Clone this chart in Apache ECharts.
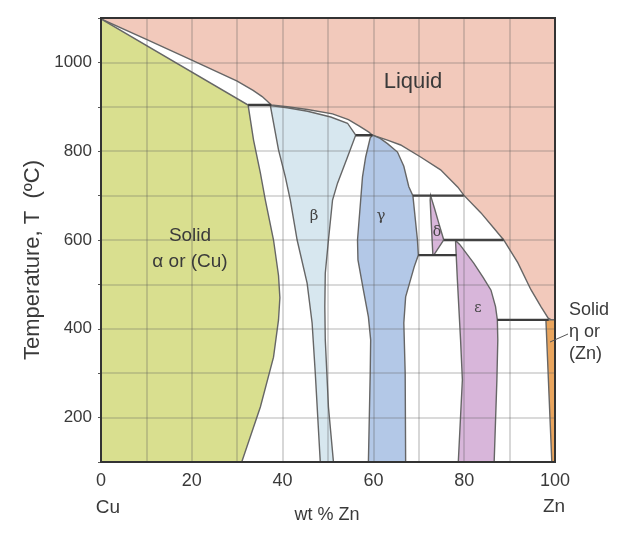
<!DOCTYPE html>
<html>
<head>
<meta charset="utf-8">
<script src="https://cdn.jsdelivr.net/npm/echarts@6/dist/echarts.min.js"></script>
<style>
html,body{margin:0;padding:0;background:#fff;}
#main{width:641px;height:533px;}
</style>
</head>
<body>
<div id="main"></div>
<script>
// ---- Data (wt % Zn, temperature °C) ----
const xTickLabels = [0, 20, 40, 60, 80, 100];
const yTickLabels = [200, 400, 600, 800, 1000];

const liquidRegion = [
  [0,1098],[10,1052],[20,1005],[30,958],[33.5,937],[35.5,923],[36.7,912],[37.5,904],
  [41,900],[45.5,894],[51,884],[54.5,871],[57,856],[59,843],[59.8,836],
  [63.1,825],[66,814],[70.4,787],[74.8,758],[78.6,719],[79.9,701],
  [83.7,661],[86.5,627],[88.7,600],[91.8,549],[94.7,488],[96.9,450],[98.5,424],[99.2,420],
  [100,420],[100,1100],[0,1100]
];
const alphaRegion = [
  [0,1098],[32.4,904],[33.6,825],[35.1,751],[36.2,690],[38,600],[39.1,520],[39.4,470],
  [39.1,420],[38,336],[35.1,224],[31,100],[0,100]
];
const betaRegion = [
  [37.3,903],[41,898],[45.5,890],[50.6,877],[54.3,863],[56.1,836],
  [54.3,787],[52.1,728],[51,690],[50.1,600],[49.4,525],[49.3,450],[49.4,375],[50.1,224],[51.2,100],
  [48.3,100],[47.2,300],[46.5,413],[45.4,503],[43.2,600],[41.7,690],[40.6,742],[39.1,803]
];
const gammaRegion = [
  [59.8,836],[61.5,829],[63.1,817],[65.3,798],[66.7,766],[67.8,720],[68.7,700],[69.3,640],
  [69.7,600],[69.9,566],[69,540],[67.1,472],[66.7,413],[67,300],[67.1,100],
  [58.9,100],[59.3,300],[59.4,375],[58.9,427],[57.8,487],[56.6,555],[56.5,600],[57.2,690],
  [57.6,742],[58.3,787],[59.3,830]
];
const deltaRegion = [
  [72.6,700],[73.5,670],[74.4,638],[75.5,600],[73.3,566],[73.1,566],[72.7,647],[72.5,690]
];
const epsilonRegion = [
  [78.2,598],[79,590],[82.1,548],[84.2,515],[85.9,487],[86.9,450],[87.3,420],[87.4,375],
  [87.2,285],[86.6,100],[78.7,100],[79.6,285],[79.2,375],[78.5,510],[78.1,596]
];
const etaRegion = [[98,420],[100,420],[100,100],[99.3,100]];

const iso904 = [[32.4,904],[37.5,904]];
const iso836 = [[56.1,836],[59.8,836]];
const iso700 = [[68.7,700],[79.9,700]];
const iso600 = [[75.5,600],[88.7,600]];
const iso566 = [[69.9,566],[78.3,566]];
const iso420 = [[87.3,420],[98.6,420]];

// ---- Chart ----
const chart = echarts.init(document.getElementById('main'), null, {renderer:'canvas'});

function region(name, pts, fill, z) {
  return {
    type:'custom', name, coordinateSystem:'cartesian2d', data: pts, z: z || 2,
    silent:true, animation:false, clip:true,
    renderItem: function (params, api) {
      if (params.dataIndex !== 0) return null;
      return {
        type:'polygon',
        shape:{ points: pts.map(p => api.coord(p)) },
        style:{ fill: fill, stroke:'#666', lineWidth:1.4 }
      };
    }
  };
}
function iso(pts) {
  return {
    type:'line', data: pts, showSymbol:false, symbol:'none', silent:true, animation:false, z:3,
    lineStyle:{ color:'#3c3c3c', width:2.4 }
  };
}

const sans = '"Liberation Sans", Arial, sans-serif';
const serif = '"DejaVu Serif", "Liberation Serif", serif';
const txt = '#3a3a3a';

chart.setOption({
  animation:false,
  backgroundColor:'#fff',
  grid:{ left:101, right:86, top:18, bottom:71, show:true, borderColor:'#333', borderWidth:2,
         backgroundColor:'transparent', z:10 },
  xAxis:{
    type:'value', min:0, max:100, interval:10, z:5,
    axisLine:{show:false}, axisTick:{show:false},
    splitLine:{show:true, lineStyle:{color:'rgba(90,90,90,0.3)', width:1.6}},
    axisLabel:{ margin:10, fontSize:18, color:txt, fontFamily:sans,
      formatter: v => xTickLabels.includes(v) ? String(v) : '' }
  },
  yAxis:{
    type:'value', min:100, max:1100, interval:100, z:5,
    axisLine:{show:false},
    axisTick:{show:true, length:3, lineStyle:{color:'#555'}},
    splitLine:{show:true, lineStyle:{color:'rgba(90,90,90,0.3)', width:1.6}},
    axisLabel:{ margin:9, fontSize:17, color:txt, fontFamily:sans,
      formatter: v => yTickLabels.includes(v) ? String(v) : '' }
  },
  series:[
    region('Liquid', liquidRegion, '#f2c9bb'),
    region('alpha', alphaRegion, '#d9df8f'),
    region('beta', betaRegion, '#d7e7ef'),
    region('gamma', gammaRegion, '#b3c8e7'),
    region('delta', deltaRegion, '#d8b6da'),
    region('epsilon', epsilonRegion, '#d8b6da'),
    region('eta', etaRegion, '#e9a55e'),
    iso(iso904), iso(iso836), iso(iso700), iso(iso600), iso(iso566), iso(iso420)
  ],
  graphic:[
    {type:'text', x:413, y:82, z:20, style:{text:'Liquid', font:'22px '+sans, fill:txt, align:'center', verticalAlign:'middle'}},
    {type:'text', x:190, y:236, z:20, style:{text:'Solid', font:'19px '+sans, fill:txt, align:'center', verticalAlign:'middle'}},
    {type:'text', x:190, y:262, z:20, style:{text:'α or (Cu)', font:'19px '+sans, fill:txt, align:'center', verticalAlign:'middle'}},
    {type:'text', x:314, y:216, z:20, style:{text:'β', font:'15px '+serif, fill:'#444', align:'center', verticalAlign:'middle'}},
    {type:'text', x:381, y:216, z:20, style:{text:'γ', font:'15px '+serif, fill:'#444', align:'center', verticalAlign:'middle'}},
    {type:'text', x:437, y:232, z:20, style:{text:'δ', font:'14px '+serif, fill:'#444', align:'center', verticalAlign:'middle'}},
    {type:'text', x:478, y:308, z:20, style:{text:'ε', font:'14px '+serif, fill:'#444', align:'center', verticalAlign:'middle'}},
    {type:'text', x:569, y:310, z:20, style:{text:'Solid', font:'18px '+sans, fill:txt, align:'left', verticalAlign:'middle'}},
    {type:'text', x:569, y:332, z:20, style:{text:'η or', font:'18px '+sans, fill:txt, align:'left', verticalAlign:'middle'}},
    {type:'text', x:569, y:354, z:20, style:{text:'(Zn)', font:'18px '+sans, fill:txt, align:'left', verticalAlign:'middle'}},
    {type:'line', z:20, shape:{x1:550, y1:342, x2:568, y2:334}, style:{stroke:'#555', lineWidth:1}},
    {type:'text', x:108, y:508, z:20, style:{text:'Cu', font:'19px '+sans, fill:txt, align:'center', verticalAlign:'middle'}},
    {type:'text', x:554, y:507, z:20, style:{text:'Zn', font:'19px '+sans, fill:txt, align:'center', verticalAlign:'middle'}},
    {type:'text', x:327, y:515, z:20, style:{text:'wt % Zn', font:'18px '+sans, fill:txt, align:'center', verticalAlign:'middle'}},
    {type:'text', x:33, y:260, z:20, rotation:Math.PI/2, style:{text:'Temperature, T  (ºC)', font:'22px '+sans, fill:txt, align:'center', verticalAlign:'middle'}}
  ]
});
</script>
</body>
</html>
